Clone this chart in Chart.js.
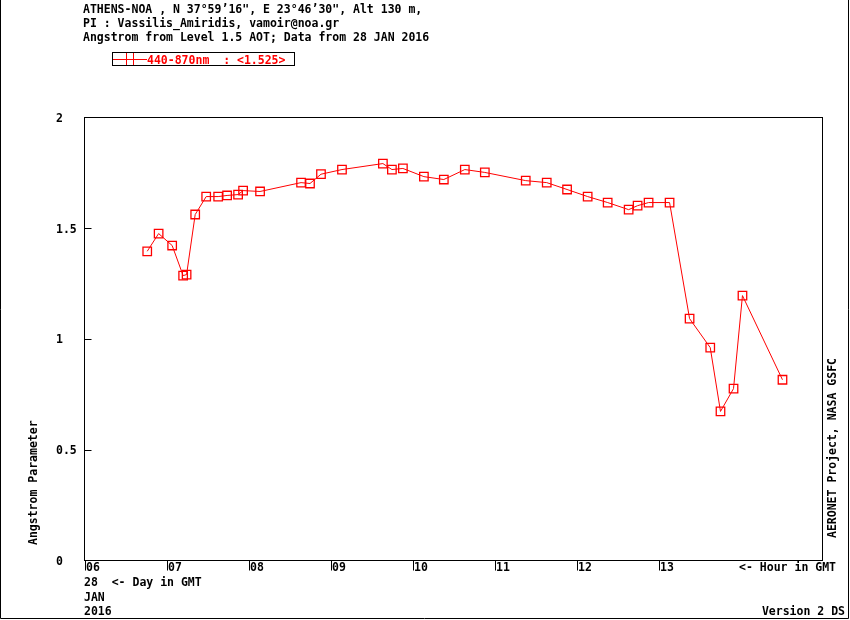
<!DOCTYPE html>
<html>
<head>
<meta charset="utf-8">
<script src="https://cdn.jsdelivr.net/npm/chart.js@4.4.1/dist/chart.umd.min.js"></script>
<style>
  html, body { margin: 0; padding: 0; background: #fff; }
</style>
</head>
<body>
<canvas id="chart" width="850" height="620"></canvas>
<script>
// Horas GMT de cada medida y su valor de Angstrom (440-870nm)
const hours = [6.765, 6.904, 7.069, 7.203, 7.245, 7.350, 7.484, 7.630, 7.739, 7.873,
  7.934, 8.141, 8.641, 8.750, 8.884, 9.140, 9.639, 9.749, 9.883, 10.139,
  10.382, 10.638, 10.882, 11.381, 11.637, 11.885, 12.136, 12.380, 12.636, 12.745,
  12.879, 13.135, 13.379, 13.631, 13.756, 13.915, 14.024, 14.512];
const angstrom = [1.396, 1.476, 1.422, 1.286, 1.291, 1.562, 1.643, 1.643, 1.648, 1.652,
  1.670, 1.666, 1.706, 1.702, 1.744, 1.765, 1.792, 1.765, 1.770, 1.733,
  1.720, 1.765, 1.752, 1.715, 1.706, 1.675, 1.643, 1.616, 1.584, 1.602,
  1.616, 1.616, 1.092, 0.961, 0.673, 0.776, 1.196, 0.816];

// Etiquetas de los ejes
const hourLabels = ['06', '07', '08', '09', '10', '11', '12', '13'];
const yTickLabels = ['0', '0.5', '1', '1.5', '2'];

// Textos de cabecera
const headerLines = [
  'ATHENS-NOA , N 37\u00B059\u201916", E 23\u00B046\u201930", Alt 130 m,',
  'PI : Vassilis_Amiridis, vamoir@noa.gr',
  'Angstrom from Level 1.5 AOT; Data from 28 JAN 2016'
];
const legendText = '440-870nm  : <1.525>';

const FONT = "bold 11.5px 'DejaVu Sans Mono', monospace";
const RED = '#ff0000';

// Dibujo del marco, textos y leyenda
const decor = {
  id: 'decor',
  afterDraw(chart) {
    const ctx = chart.ctx;
    const a = chart.chartArea;
    const x = chart.scales.x;
    const y = chart.scales.y;
    ctx.save();
    ctx.lineWidth = 1;
    ctx.strokeStyle = '#000';
    ctx.strokeRect(a.left, a.top, a.right - a.left, a.bottom - a.top);

    // marcas interiores del eje y
    ctx.beginPath();
    [0.5, 1, 1.5].forEach(v => {
      const py = Math.round(y.getPixelForValue(v)) + 0.5;
      ctx.moveTo(a.left, py);
      ctx.lineTo(a.left + 7, py);
    });
    // marcas del eje x hacia abajo
    hourLabels.forEach(h => {
      const px = Math.round(x.getPixelForValue(Number(h))) + 0.5;
      ctx.moveTo(px, a.bottom);
      ctx.lineTo(px, a.bottom + 10);
    });
    ctx.stroke();

    // marco exterior
    ctx.beginPath();
    ctx.moveTo(0.5, 0);
    ctx.lineTo(0.5, 618.5);
    ctx.lineTo(848.5, 618.5);
    ctx.lineTo(848.5, 0);
    ctx.stroke();

    ctx.font = FONT;
    ctx.fillStyle = '#000';
    ctx.textBaseline = 'alphabetic';
    ctx.textAlign = 'left';
    headerLines.forEach((t, i) => ctx.fillText(t, 83, 12.5 + i * 14));

    ctx.fillText('28  <- Day in GMT', 84, 586);
    ctx.fillText('JAN', 84, 601);
    ctx.fillText('2016', 84, 615);
    ctx.textAlign = 'right';
    ctx.fillText('<- Hour in GMT', 836, 571);
    ctx.fillText('Version 2 DS', 845, 615);

    // titulos verticales
    ctx.save();
    ctx.translate(37, 545);
    ctx.rotate(-Math.PI / 2);
    ctx.textAlign = 'left';
    ctx.fillText('Angstrom Parameter', 0, 0);
    ctx.restore();
    ctx.save();
    ctx.translate(836, 538);
    ctx.rotate(-Math.PI / 2);
    ctx.textAlign = 'left';
    ctx.fillText('AERONET Project, NASA GSFC', 0, 0);
    ctx.restore();

    // leyenda
    ctx.strokeStyle = '#000';
    ctx.strokeRect(112.5, 52.5, 182, 13);
    ctx.strokeStyle = RED;
    ctx.beginPath();
    ctx.moveTo(113, 59.5);
    ctx.lineTo(147, 59.5);
    ctx.moveTo(126.5, 53);
    ctx.lineTo(126.5, 65);
    ctx.moveTo(133.5, 53);
    ctx.lineTo(133.5, 65);
    ctx.stroke();
    ctx.fillStyle = RED;
    ctx.textAlign = 'left';
    ctx.fillText(legendText, 147, 63.5);
    ctx.restore();
  }
};

const points = hours.map((h, i) => ({ x: h, y: angstrom[i] }));

new Chart(document.getElementById('chart').getContext('2d'), {
  type: 'line',
  data: {
    datasets: [{
      label: '440-870nm',
      data: points,
      borderColor: RED,
      borderWidth: 1,
      tension: 0,
      pointStyle: 'rect',
      pointRadius: 6,
      pointBorderWidth: 1.3,
      pointBorderColor: RED,
      pointBackgroundColor: 'rgba(0,0,0,0)'
    }]
  },
  options: {
    responsive: false,
    animation: false,
    devicePixelRatio: 1,
    layout: { padding: { left: 56, top: 117.5, right: 27.5, bottom: 39.5 } },
    plugins: { legend: { display: false }, tooltip: { enabled: false } },
    scales: {
      x: {
        type: 'linear',
        min: 6,
        max: 15,
        grid: { display: false },
        border: { display: false },
        afterFit(s) { s.height = 20; },
        ticks: {
          stepSize: 1,
          autoSkip: false,
          maxRotation: 0,
          align: 'start',
          padding: -7,
          labelOffset: 1.5,
          color: '#000',
          font: { family: "'DejaVu Sans Mono', monospace", size: 11.5, weight: 'bold' },
          callback: v => {
            const i = hourLabels.indexOf(String(v).padStart(2, '0'));
            return i >= 0 ? hourLabels[i] : '';
          }
        }
      },
      y: {
        min: 0,
        max: 2,
        grid: { display: false },
        border: { display: false },
        afterFit(s) { s.width = 28.5; },
        ticks: {
          stepSize: 0.5,
          crossAlign: 'far',
          labelOffset: 1.5,
          color: '#000',
          font: { family: "'DejaVu Sans Mono', monospace", size: 11.5, weight: 'bold' },
          callback: v => yTickLabels[Math.round(v * 2)]
        }
      }
    }
  },
  plugins: [decor]
});
</script>
</body>
</html>
